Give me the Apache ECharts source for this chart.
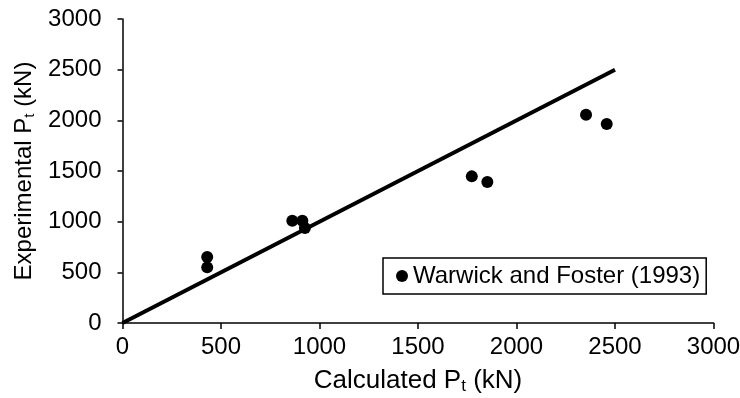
<!DOCTYPE html>
<html>
<head>
<meta charset="utf-8">
<script src="https://cdn.jsdelivr.net/npm/echarts@6/dist/echarts.min.js"></script>
<style>html,body{margin:0;padding:0;background:#fff;}#c{width:740px;height:398px;}</style>
</head>
<body>
<div id="c"></div>
<script>
const calculated = [430, 430, 862, 913, 926, 1773, 1852, 2353, 2458];
const experimental = [651, 549, 1010, 1010, 937, 1447, 1391, 2056, 1964];
const lineX = [0, 2500];
const lineY = [0, 2500];
const seriesName = 'Warwick and Foster (1993)';

const font = '"Liberation Sans", Arial, sans-serif';
const chart = echarts.init(document.getElementById('c'), null, {renderer: 'canvas'});
chart.setOption({
  animation: false,
  backgroundColor: '#fff',
  textStyle: {fontFamily: font},
  grid: {left: 122.5, right: 26.5, top: 19, bottom: 75, containLabel: false, outerBoundsMode: 'none'},
  legend: {
    data: [seriesName],
    left: 383, top: 258,
    padding: [6, 6, 6, 13],
    borderColor: '#000', borderWidth: 1.5,
    itemWidth: 12, itemHeight: 12,
    icon: 'circle',
    textStyle: {fontSize: 24, color: '#000', fontFamily: font}
  },
  xAxis: {
    type: 'value', min: 0, max: 3000, interval: 500,
    name: 'Calculated P{sub|t} (kN)',
    nameLocation: 'middle', nameGap: 43,
    nameTextStyle: {fontSize: 26, color: '#000', fontFamily: font,
      rich: {sub: {fontSize: 17, fontFamily: font, color: '#000', padding: [12, 0, 0, 0]}}},
    axisLine: {show: true, onZero: false, lineStyle: {color: '#000', width: 1.5}},
    axisTick: {show: true, length: 6, lineStyle: {color: '#000', width: 1.5}},
    axisLabel: {fontSize: 24, color: '#000', margin: 12, fontFamily: font, formatter: v => String(v)},
    splitLine: {show: false}
  },
  yAxis: {
    type: 'value', min: 0, max: 3000, interval: 500,
    name: 'Experimental P{sub|t} (kN)',
    nameLocation: 'middle', nameGap: 80,
    nameTextStyle: {fontSize: 24, color: '#000', fontFamily: font,
      rich: {sub: {fontSize: 15, fontFamily: font, color: '#000', padding: [11, 0, 0, 0]}}},
    axisLine: {show: true, onZero: false, lineStyle: {color: '#000', width: 1.5}},
    axisTick: {show: true, length: 5, lineStyle: {color: '#000', width: 1.5}},
    axisLabel: {fontSize: 24, color: '#000', margin: 21, fontFamily: font, formatter: v => String(v)},
    splitLine: {show: false}
  },
  series: [
    {
      name: 'line', type: 'line',
      data: lineX.map((x, i) => [x, lineY[i]]),
      symbol: 'none',
      lineStyle: {color: '#000', width: 4},
      z: 2
    },
    {
      name: seriesName, type: 'scatter',
      data: calculated.map((x, i) => [x, experimental[i]]),
      symbol: 'circle', symbolSize: 12,
      itemStyle: {color: '#000', opacity: 1},
      z: 3
    }
  ]
});
</script>
</body>
</html>
